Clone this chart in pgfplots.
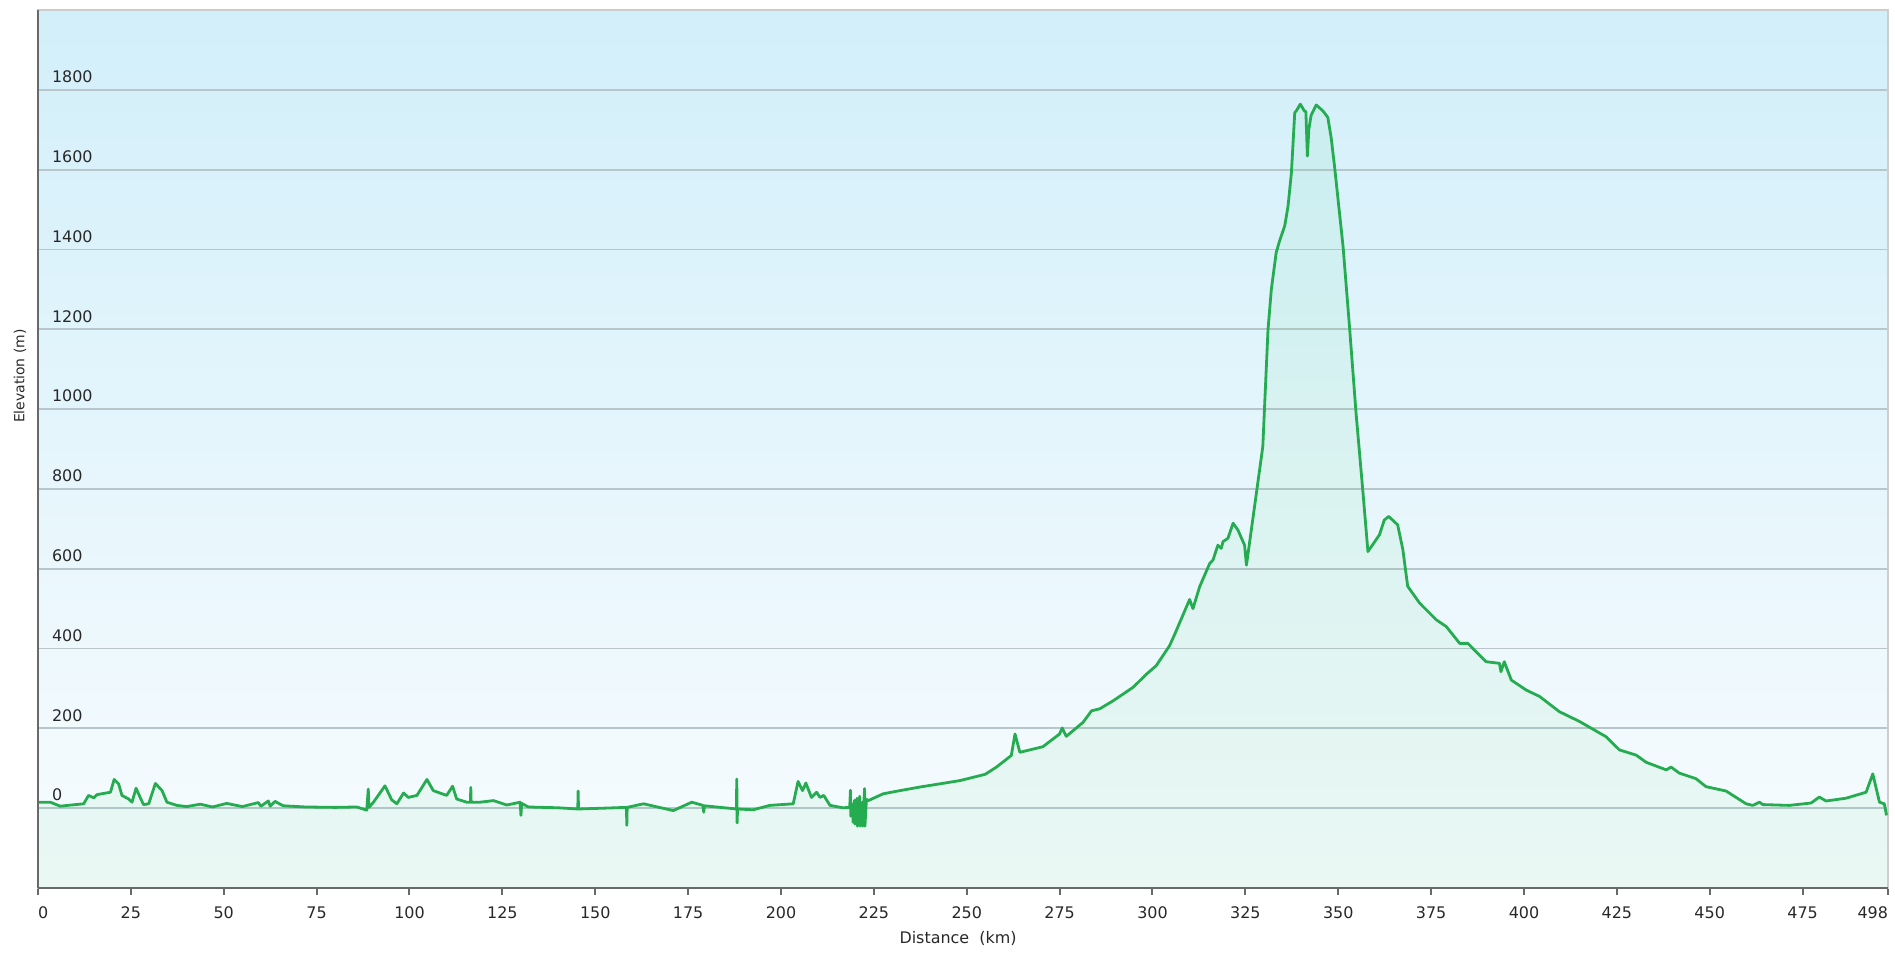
\documentclass[border=0pt]{standalone}
\usepackage{fontspec}
\setmainfont{DejaVu Sans}
\usepackage{pgfplots}
\pgfplotsset{compat=1.18}
\usepackage{pgfplotstable}
\definecolor{bgtop}{RGB}{210,239,250}
\definecolor{bgbot}{RGB}{248,252,254}
\definecolor{linegreen}{RGB}{38,172,80}
\definecolor{fillgreen}{RGB}{60,205,110}
\definecolor{gridc}{RGB}{184,198,204}
\definecolor{axisdark}{RGB}{105,105,105}
\definecolor{framec}{RGB}{205,205,205}
\definecolor{txt}{RGB}{40,40,40}

\pgfplotstableread{
km elev
0 15
3.3 15
6 5
9 8
12.3 11
13.6 32
15 26
15.9 34
19.5 40
20.5 72
21.7 61
22.6 32
24.4 23
25.3 15
26.4 50
27.5 27
28.4 9
29.8 11
31.6 62
33.4 44
34.7 15
37.4 7
40 4
43.7 10
47 3
50.8 12
55 4
59.3 14
60 5
62 18
62.5 5
63.8 17
66 6
72 3
80 2
85.8 3
88.5 -5
88.9 48
89.1 2
90.3 15
93.4 56
95.2 21
96.6 11
98.4 38
99.7 27
102 32
104.7 72
106.4 44
110 32
111.6 55
112.7 23
115.4 15
116.4 15
116.5 52
116.6 15
119 15
122.6 19
126.2 8
129.8 15
130 -18
130.2 12
132 3
140 1
145.3 -2
145.4 43
145.5 -2
152.2 0
158.4 2
158.5 -43
158.6 2
163 11
171 -6
176 15
179 7
179.2 -10
179.4 6
188 -2
188.1 73
188.2 -37
188.3 -2
192.5 -4
197 7
203.3 11
204.6 67
205.8 44
206.7 63
208.2 27
209.6 40
210.5 27
211.5 32
213.2 7
216.7 1
218.5 2
218.7 45
218.8 -20
219.3 10
219.4 -35
219.8 20
219.9 -40
220.5 25
220.6 -45
221.2 30
221.3 -45
221.9 15
222 -45
222.5 49
222.6 -45
223 22
223.5 19
227.5 36
232 44
237.4 53
248.1 69
255 85
258 103
262 132
263 186
264.3 140
270.5 154
275 186
275.7 201
276.8 180
281.3 215
283.6 244
285.8 249
289.4 269
294.8 303
298.4 336
301 357
304.6 407
306 436
310 523
310.9 500
312.7 555
315.4 613
316.3 622
317.6 659
318.5 651
319 668
320.3 676
321.7 714
323 697
324.8 659
325.3 609
329.7 906
331.1 1199
332 1300
333.3 1392
334.2 1421
335.6 1459
336.5 1509
337.4 1592
338.3 1743
338.7 1747
339.8 1764
340.9 1747
341.3 1745
341.7 1634
342.1 1701
342.7 1736
344.1 1762
345.9 1747
347.2 1731
348.1 1680
349 1609
351.3 1408
353.1 1199
354.8 990
356.6 798
358 643
361.1 685
362.4 722
363.6 731
366 710
367.4 648
368.7 556
371.9 514
376.4 472
379.1 455
382.7 413
384.9 413
389.8 367
393.4 363
393.8 342
394.7 367
396.6 321
400.6 296
404.2 280
409.5 242
415 217
422.1 179
425.7 146
430.2 133
432.9 115
438.3 96
439.6 103
441.8 88
446.3 74
449 54
454.4 43
459.8 11
461.6 7
463.4 15
464.3 9
471.4 7
477.3 13
479.5 28
481.3 18
486.7 25
492.1 40
493.9 86
495.7 15
497 11
497.6 -18
}\profile

\begin{document}
\begin{tikzpicture}
\useasboundingbox (-19bp,-33bp) rectangle (928.5bp,444bp);
\begin{axis}[
  at={(0,0)}, anchor=south west,
  scale only axis, width=925bp, height=439bp,
  xmin=0, xmax=498, ymin=-200, ymax=2000,
  axis background/.style={top color=bgtop, bottom color=bgbot},
  axis line style={framec, line width=0.8bp},
  ymajorgrids, major grid style={gridc, line width=0.9bp},
  xtick={0,25,...,475,498},
  xticklabels={\makebox[0pt][l]{0},25,50,75,100,125,150,175,200,225,250,275,300,325,350,375,400,425,450,475,\makebox[0pt][r]{498}},
  ytick={0,200,...,1800},
  yticklabels={0,200,400,600,800,1000,1200,1400,1600,1800},
  xtick pos=bottom, ytick pos=left,
  tick align=outside, major tick length=3.5bp,
  xtick style={axisdark, line width=1bp},
  ytick style={draw=none},
  x tick label style={font=\fontsize{8}{9.6}\selectfont, text=txt, yshift=-2.3bp},
  y tick label style={font=\fontsize{8}{9.6}\selectfont, text=txt, anchor=south west, xshift=7bp, yshift=0bp},
  xlabel={Distance\ \ (km)},
  ylabel={Elevation (m)},
  every axis x label/.style={at={(axis description cs:0.4973,-0.057)}, anchor=center, font=\fontsize{8}{9.6}\selectfont, text=txt},
  every axis y label/.style={at={(axis description cs:-0.0097,0.583)}, anchor=center, rotate=90, font=\fontsize{7}{8.4}\selectfont, text=txt},
  after end axis/.code={
    \draw[axisdark, line width=1bp] (rel axis cs:0,0) -- (rel axis cs:0,1);
    \draw[axisdark, line width=1bp] (rel axis cs:0,0) -- (rel axis cs:1,0);
  },
]
\addplot[draw=none, fill=fillgreen, fill opacity=0.07] table[x=km, y=elev] {\profile} -- (axis cs:497.6,-200) -- (axis cs:0,-200) -- cycle;
\addplot[linegreen, line width=1.4bp, line join=round] table[x=km, y=elev] {\profile};
\end{axis}
\end{tikzpicture}
\end{document}
